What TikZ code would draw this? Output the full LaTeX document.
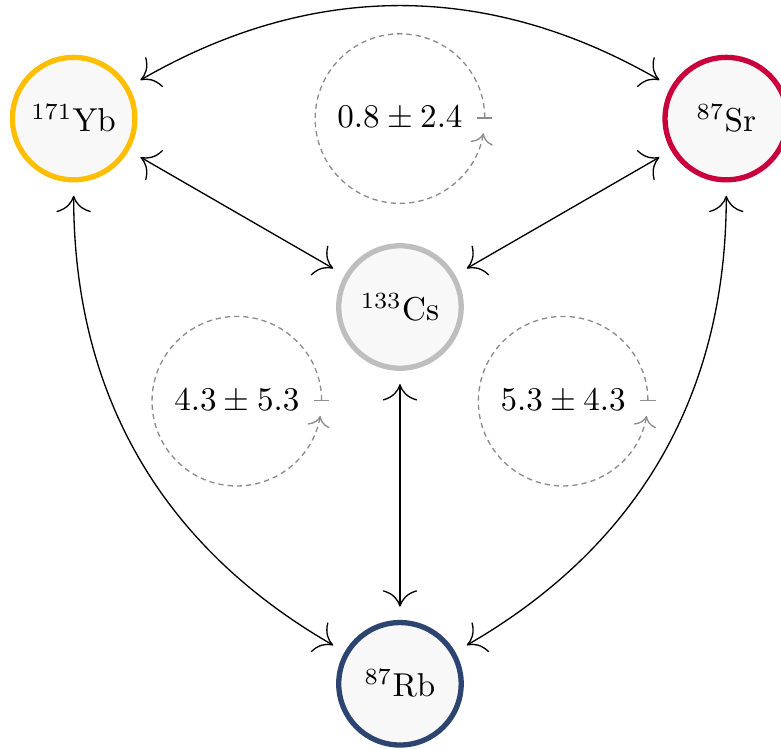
\documentclass[tikz,border=0pt]{standalone}
\usepackage{amsmath}
\usepackage{tikz}
\usetikzlibrary{arrows.meta}
\definecolor{CYb}{HTML}{FFBF00}
\definecolor{CSr}{HTML}{C8003C}
\definecolor{CCs}{HTML}{BEBEBE}
\definecolor{CRb}{HTML}{2D4470}
\definecolor{Cfill}{HTML}{F8F8F8}
\definecolor{Cloop}{HTML}{8C8C8C}

\begin{document}
\begin{tikzpicture}[
  atom/.style={circle, draw=#1, ultra thick, fill=Cfill, minimum size=1.3cm, inner sep=0pt},
  link/.style={>={To[scale=2]}, <->, shorten >=4pt, shorten <=4pt},
  loop/.style={Cloop, thin, >={To[scale=1.3]}, |->, dash pattern=on 1.6pt off 1.2pt}]
\def \R {4}
\def \r {0.9}
\useasboundingbox (-4.246,-4.682) rectangle (4.045,3.259);
\node[atom=CCs] (Cs) at (0,0) {$^{133}$Cs};
\node[atom=CYb] (Yb) at (150:\R) {$^{171}$Yb};
\node[atom=CSr] (Sr) at (30:\R) {$^{87}$Sr};
\node[atom=CRb] (Rb) at (270:\R) {$^{87}$Rb};
\draw[link] (Yb) -- (Cs);
\draw[link] (Sr) -- (Cs);
\draw[link] (Cs) -- (Rb);
\draw[link] (Yb) to[bend left=30] (Sr);
\draw[link] (Yb) to[bend right=30] (Rb);
\draw[link] (Sr) to[bend left=30] (Rb);
\node (top) at (90:\R/2) {$0.8 \pm 2.4$};
\node (left) at (210:\R/2) {$4.3 \pm 5.3$};
\node (right) at (-30:\R/2) {$5.3 \pm 4.3$};
\foreach \n in {top,left,right}
  \draw[loop] (\n.center) ++(0:\r) arc (0:350:\r);
\end{tikzpicture}
\end{document}
